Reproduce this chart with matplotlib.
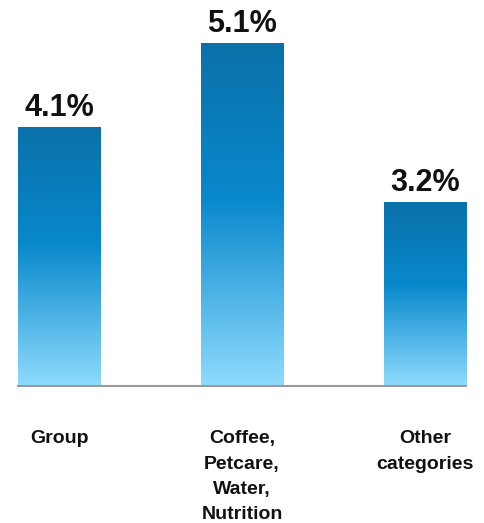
import numpy as np
import matplotlib
matplotlib.use("Agg")
import matplotlib.pyplot as plt
from matplotlib.colors import LinearSegmentedColormap

# Data
categories = ["Group", "Coffee,\nPetcare,\nWater,\nNutrition", "Other\ncategories"]
values = [4.1, 5.1, 3.2]
value_labels = ["4.1%", "5.1%", "3.2%"]

plt.rcParams['font.family'] = ['Liberation Sans', 'DejaVu Sans']

fig = plt.figure(figsize=(4.85, 5.23), dpi=100)
ax = fig.add_axes([18 / 485, (523 - 386) / 523, (466 - 18) / 485, (386 - 43) / 523])

width = 0.449
x = np.arange(len(values))
ymin, ymax = 1.0, 5.1

# vertical gradient: light at bottom, mid blue, darker at top
cmap = LinearSegmentedColormap.from_list(
    "bar", [(0.0, "#8edbfd"), (0.55, "#0888cc"), (1.0, "#0b71a9")])
grad = np.linspace(0, 1, 256).reshape(-1, 1)

bars = ax.bar(x, values, width=width, color="none", edgecolor="none")
for b, v in zip(bars, values):
    im = ax.imshow(grad, cmap=cmap, origin="lower", aspect="auto",
                   extent=[b.get_x(), b.get_x() + width, ymin, v], zorder=2)
    im.set_clip_path(b)

for xi, v, lab in zip(x, values, value_labels):
    ax.annotate(lab, (xi, v), xytext=(0, 8), textcoords="offset points",
                ha="center", va="baseline", fontsize=22, fontweight="bold",
                color="#111111", annotation_clip=False)

ax.set_xlim(-width / 2, 2 + width / 2)
ax.set_ylim(ymin, ymax)

for s in ["top", "right", "left"]:
    ax.spines[s].set_visible(False)
ax.spines["bottom"].set_color("#999999")
ax.spines["bottom"].set_linewidth(1.5)
ax.spines["bottom"].set_zorder(3)

ax.set_yticks([])
ax.set_xticks(x)
ax.set_xticklabels(categories, fontsize=14, fontweight="bold", color="#111111",
                   linespacing=1.62)
ax.tick_params(axis="x", length=0, pad=32)
ax.get_xticklabels()[2].set_x(2.02)

fig.savefig("out.png", dpi=100)
